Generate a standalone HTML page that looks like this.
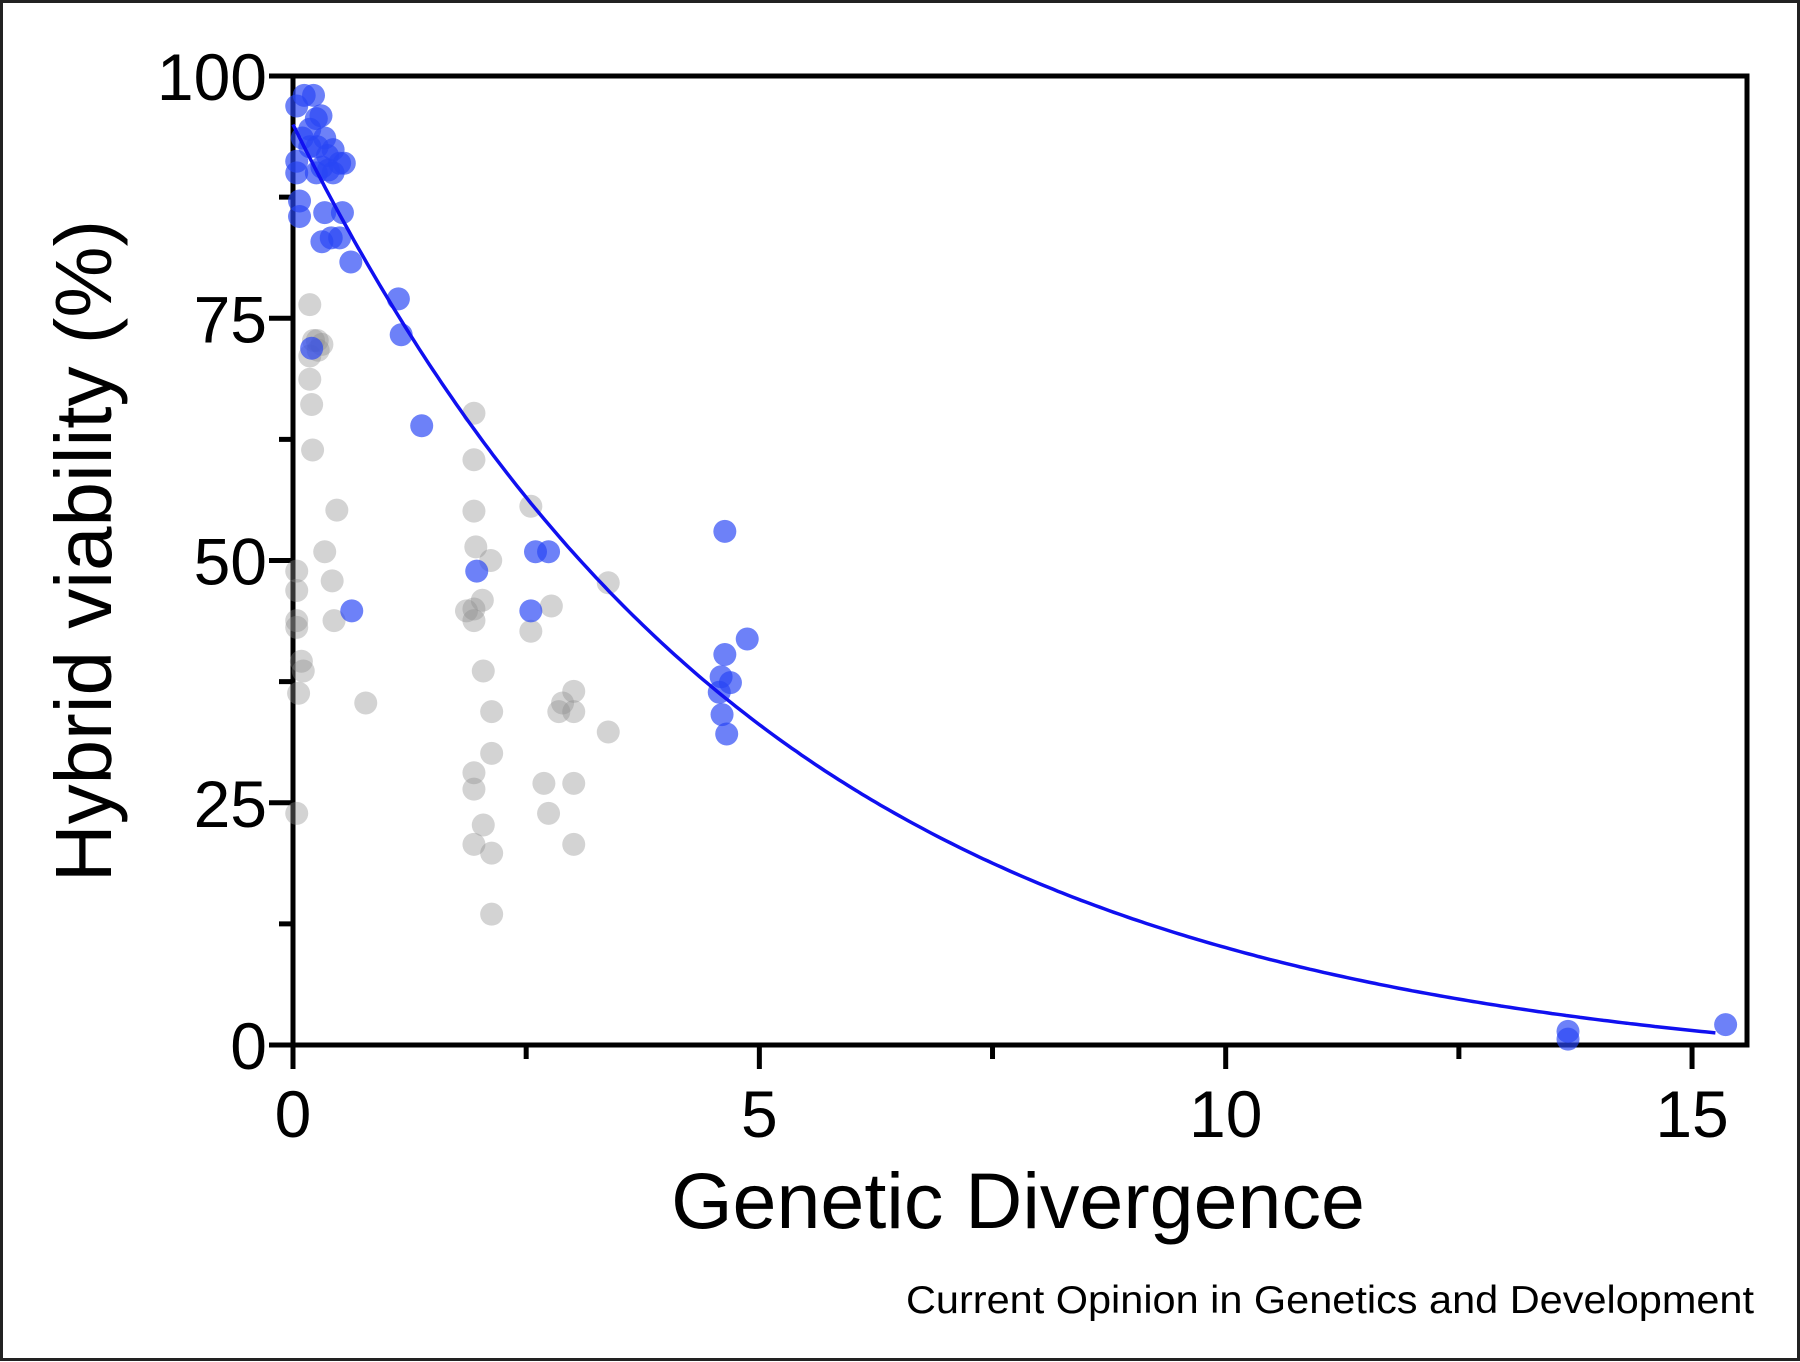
<!DOCTYPE html>
<html><head><meta charset="utf-8"><style>
html,body{margin:0;padding:0;background:#fff}
svg{display:block}
text{font-family:"Liberation Sans",Arial,sans-serif;fill:#000}
</style></head><body>
<svg id="chart" width="1800" height="1362" viewBox="0 0 1800 1362">
<rect x="1.5" y="1.5" width="1797" height="1358" fill="#fff" stroke="#222" stroke-width="3"/>
<g id="ticks"></g>
<g id="gray"></g>
<g id="blue"></g>
<path id="curve" fill="none" stroke="#1010f0" stroke-width="3.5"/>
<text x="90" y="551" font-size="80" text-anchor="middle" transform="rotate(-90 90 551)" dominant-baseline="middle">Hybrid viability (%)</text>
<text x="1018" y="1228" font-size="79" text-anchor="middle">Genetic Divergence</text>
<text x="1754" y="1313" font-size="39" text-anchor="end" textLength="848" lengthAdjust="spacingAndGlyphs" fill="#111">Current Opinion in Genetics and Development</text>
</svg>
<script>
const xTicks=[0,5,10,15];
const yTicks=[0,25,50,75,100];
const xMinor=[2.5,7.5,12.5];
const yMinor=[12.5,37.5,62.5,87.5];
const fitY0=95, fitPlateau=-3.56, fitK=0.198;
const blueX=[0.12,0.22,0.04,0.25,0.30,0.18,0.10,0.34,0.18,0.26,0.37,0.43,0.50,0.55,0.43,0.04,0.04,0.25,0.31,0.38,0.07,0.07,0.34,0.53,0.31,0.41,0.50,0.62,1.13,1.16,1.38,0.20,0.63,1.97,2.60,2.74,2.55,4.63,4.87,4.63,4.59,4.69,4.57,4.60,4.65,13.67,13.67,15.36];
const blueY=[98.0,98.0,96.9,95.6,95.9,94.5,93.6,93.6,92.7,92.7,91.8,92.4,91.0,91.0,90.0,91.2,90.0,90.0,90.6,90.3,87.1,85.5,85.9,85.9,82.9,83.3,83.3,80.8,77.0,73.3,63.9,71.9,44.8,48.9,50.9,50.9,44.8,53.0,41.9,40.3,38.0,37.4,36.4,34.1,32.1,1.4,0.6,2.1];
const grayX=[0.18,0.26,0.22,0.31,0.18,0.27,0.18,0.20,0.21,0.04,0.04,0.04,0.04,0.09,0.06,0.04,0.11,0.34,0.47,0.42,0.44,0.78,1.94,1.94,1.94,1.96,2.12,1.94,1.86,2.03,1.94,2.04,2.13,2.13,1.94,1.94,2.04,1.94,2.13,2.13,2.55,2.55,2.77,2.89,2.85,3.01,3.01,3.38,3.38,2.69,2.74,3.01,3.01];
const grayY=[76.4,72.7,72.7,72.3,71.1,71.7,68.7,66.1,61.4,48.9,46.9,43.8,43.1,39.6,36.3,23.9,38.6,50.9,55.2,47.9,43.8,35.3,65.2,60.4,55.1,51.4,50.0,45.0,44.8,45.9,43.8,38.6,34.4,30.1,28.1,26.4,22.7,20.7,19.8,13.5,55.6,42.7,45.3,35.3,34.4,36.5,34.4,47.7,32.3,27.0,23.9,27.0,20.7];

const NS='http://www.w3.org/2000/svg';
const X0=293, XS=93.27, Y0=1045, YS=9.69, XR=1747, YT=76;
const sx=v=>X0+v*XS, sy=v=>Y0-v*YS;
function mk(tag,attrs,parent){const e=document.createElementNS(NS,tag);for(const k in attrs)e.setAttribute(k,attrs[k]);parent.appendChild(e);return e;}
const ax=document.getElementById('ticks');
let fr=mk('rect',{x:X0,y:YT,width:XR-X0,height:Y0-YT,fill:'none',stroke:'#000','stroke-width':5},ax);


yTicks.forEach(v=>{
  let l=mk('line',{x1:X0-24,x2:X0,y1:sy(v),y2:sy(v),stroke:'#000','stroke-width':5},ax);
  
  
  let t=mk('text',{x:X0-26,y:sy(v)+24,'font-size':66,'text-anchor':'end'},ax);
  t.textContent=v;
  
  
});
yMinor.forEach(v=>{
  let l=mk('line',{x1:X0-14,x2:X0,y1:sy(v),y2:sy(v),stroke:'#000','stroke-width':5},ax);
  
  
});
xTicks.forEach(v=>{
  let l=mk('line',{x1:sx(v),x2:sx(v),y1:Y0,y2:Y0+24,stroke:'#000','stroke-width':5},ax);
  
  
  let t=mk('text',{x:sx(v),y:Y0+92,'font-size':66,'text-anchor':'middle'},ax);
  t.textContent=v;
  
  
});
xMinor.forEach(v=>{
  let l=mk('line',{x1:sx(v),x2:sx(v),y1:Y0,y2:Y0+14,stroke:'#000','stroke-width':5},ax);
  
  
});
const gg=document.getElementById('gray');
grayX.forEach((x,i)=>{
  let c=mk('circle',{cx:sx(x),cy:sy(grayY[i]),r:11.5,fill:'rgba(140,140,140,0.38)'},gg);
  
  
});
const bg=document.getElementById('blue');
blueX.forEach((x,i)=>{
  let c=mk('circle',{cx:sx(x),cy:sy(blueY[i]),r:11.5,fill:'rgba(40,70,245,0.68)'},bg);
  
  
});
let d='';
for(let x=0;x<=15.3;x+=0.05){const y=(fitY0-fitPlateau)*Math.exp(-fitK*x)+fitPlateau;d+=(d?'L':'M')+sx(x).toFixed(1)+' '+sy(y).toFixed(1);}
document.getElementById('curve').setAttribute('d',d);
</script>
</body></html>
